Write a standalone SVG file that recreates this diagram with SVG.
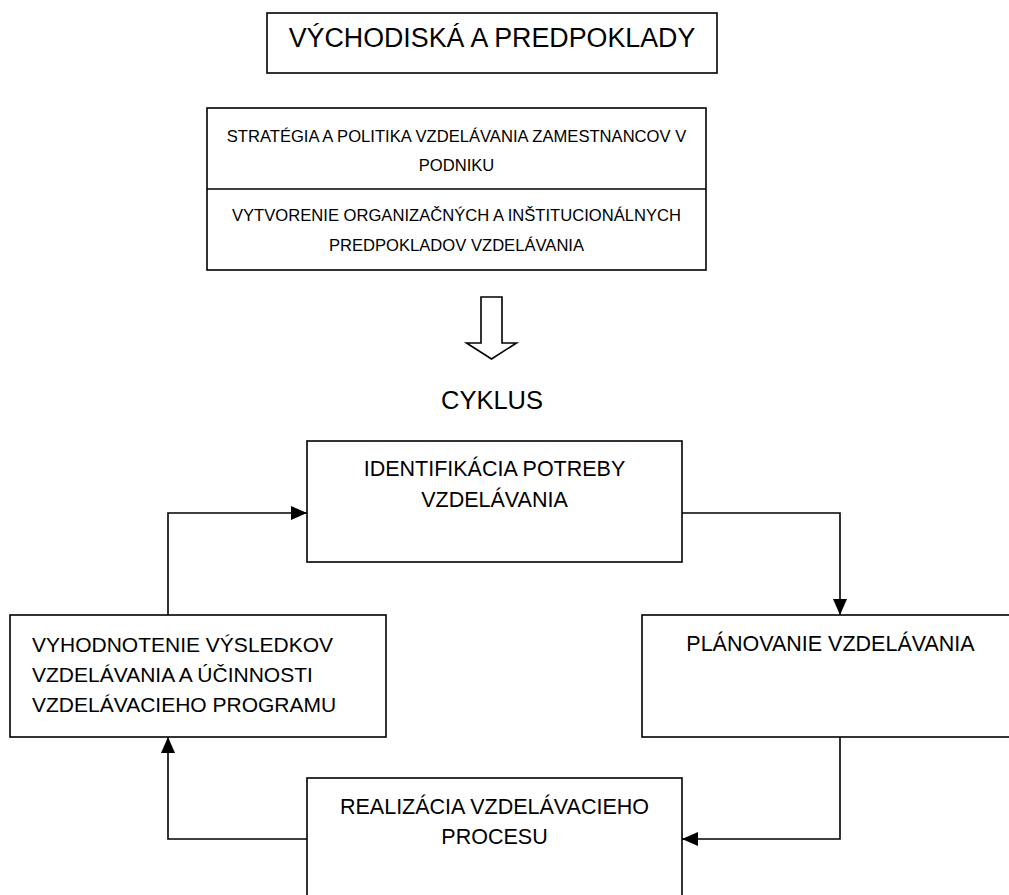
<svg xmlns="http://www.w3.org/2000/svg" width="1009" height="895" viewBox="0 0 1009 895">
  <defs>
    <style>
      .box { fill: #fff; stroke: #000; stroke-width: 1.6; }
      .line { fill: none; stroke: #000; stroke-width: 1.6; }
      text { font-family: "Liberation Sans", Arial, sans-serif; fill: #000; }
      .title { font-size: 26.8px; text-anchor: middle; }
      .cycle { font-size: 25.5px; text-anchor: middle; }
      .small { font-size: 16.6px; text-anchor: middle; }
      .step { font-size: 21.5px; text-anchor: middle; }
      .left { font-size: 21px; text-anchor: start; }
    </style>
    <marker id="head" markerWidth="16" markerHeight="14" refX="16" refY="7" orient="auto" markerUnits="userSpaceOnUse">
      <path d="M0,0 L16,7 L0,14 Z" fill="#000"/>
    </marker>
  </defs>
  <rect width="1009" height="895" fill="#fff"/>

  <g id="vychodiska">
    <rect class="box" x="267" y="13" width="450" height="60"/>
    <text class="title" x="492" y="47">VÝCHODISKÁ A PREDPOKLADY</text>
  </g>

  <g id="predpoklady">
    <rect class="box" x="207" y="108" width="499" height="162"/>
    <line class="line" x1="207" y1="189" x2="706" y2="189"/>
    <text class="small" x="456.5" y="142">STRATÉGIA A POLITIKA VZDELÁVANIA ZAMESTNANCOV V</text>
    <text class="small" x="456.5" y="171">PODNIKU</text>
    <text class="small" x="456.5" y="221">VYTVORENIE ORGANIZAČNÝCH A INŠTITUCIONÁLNYCH</text>
    <text class="small" x="456.5" y="251">PREDPOKLADOV VZDELÁVANIA</text>
  </g>

  <g id="prechod">
    <path class="line" d="M481,297 L502,297 L502,343 L516.5,343 L491.5,359 L466.5,343 L481,343 Z"/>
    <text class="cycle" x="492" y="409">CYKLUS</text>
  </g>

  <g id="identifikacia">
    <rect class="box" x="307" y="441" width="375" height="121"/>
    <text class="step" x="494.5" y="476">IDENTIFIKÁCIA POTREBY</text>
    <text class="step" x="494.5" y="507">VZDELÁVANIA</text>
  </g>

  <g id="planovanie">
    <rect class="box" x="642" y="615" width="377" height="122"/>
    <text class="step" x="830.5" y="651">PLÁNOVANIE VZDELÁVANIA</text>
  </g>

  <g id="realizacia">
    <rect class="box" x="307" y="778" width="375" height="140"/>
    <text class="step" x="494.5" y="814">REALIZÁCIA VZDELÁVACIEHO</text>
    <text class="step" x="494.5" y="844">PROCESU</text>
  </g>

  <g id="vyhodnotenie">
    <rect class="box" x="10" y="615" width="376" height="122"/>
    <text class="left" x="32" y="652">VYHODNOTENIE VÝSLEDKOV</text>
    <text class="left" x="32" y="682">VZDELÁVANIA A ÚČINNOSTI</text>
    <text class="left" x="32" y="712">VZDELÁVACIEHO PROGRAMU</text>
  </g>

  <g id="connectors">
    <path class="line" d="M682,513 L840,513 L840,615" marker-end="url(#head)"/>
    <path class="line" d="M840,737 L840,839 L682,839" marker-end="url(#head)"/>
    <path class="line" d="M307,839 L168,839 L168,737" marker-end="url(#head)"/>
    <path class="line" d="M168,615 L168,513 L307,513" marker-end="url(#head)"/>
  </g>
</svg>
